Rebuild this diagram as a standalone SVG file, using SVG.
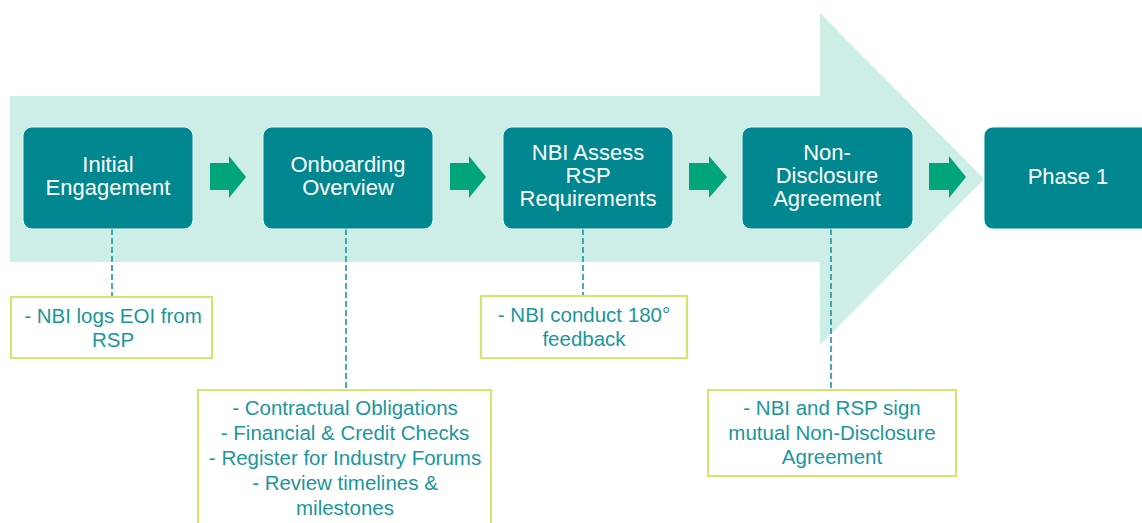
<svg xmlns="http://www.w3.org/2000/svg" width="1142" height="523" viewBox="0 0 1142 523">
<defs>
<style>
.step{fill:#00878F;stroke:#E6F6F2;stroke-width:1}
.st{fill:#FFFFFF;font-family:"Liberation Sans",Arial,sans-serif;font-size:22px;text-anchor:middle}
.note{fill:#FFFFFF;stroke:#D5E56B;stroke-width:2}
.nt{fill:#1A969C;font-family:"Liberation Sans",Arial,sans-serif;font-size:20.5px;text-anchor:middle}
.dash{stroke:#1A96A0;stroke-width:1.6;stroke-dasharray:6 3;fill:none}
.ga{fill:#00A57A}
</style>
</defs>
<rect width="1142" height="523" fill="#FFFFFF"/>
<polygon id="bigArrow" points="10,96 820,96 820,13 984,179 820,345 820,262 10,262" fill="#CDEEE6"/>
<g id="connectors">
<line class="dash" x1="112" y1="229" x2="112" y2="297"/>
<line class="dash" x1="346" y1="229" x2="346" y2="390"/>
<line class="dash" x1="583" y1="229" x2="583" y2="296"/>
<line class="dash" x1="831" y1="229" x2="831" y2="390"/>
<polygon class="ga" points="210,163 229,163 229,156 246,177 229,198 229,190 210,190"/>
<polygon class="ga" points="450,163 469,163 469,156 486,177 469,198 469,190 450,190"/>
<polygon class="ga" points="689,163 709,163 709,156 727,177 709,198 709,190 689,190"/>
<polygon class="ga" points="929,163 949,163 949,156 966,177 949,198 949,190 929,190"/>
</g>
<g id="initialEngagement">
<rect class="step" x="23" y="127" width="170" height="102" rx="9"/>
<text class="st" x="108" y="172">Initial</text>
<text class="st" x="108" y="195">Engagement</text>
</g>
<g id="onboardingOverview">
<rect class="step" x="263" y="127" width="170" height="102" rx="9"/>
<text class="st" x="348" y="172">Onboarding</text>
<text class="st" x="348" y="195">Overview</text>
</g>
<g id="nbiAssess">
<rect class="step" x="503" y="127" width="170" height="102" rx="9"/>
<text class="st" x="588" y="160">NBI Assess</text>
<text class="st" x="588" y="183">RSP</text>
<text class="st" x="588" y="206">Requirements</text>
</g>
<g id="nda">
<rect class="step" x="742" y="127" width="171" height="102" rx="9"/>
<text class="st" x="827" y="160">Non-</text>
<text class="st" x="827" y="183">Disclosure</text>
<text class="st" x="827" y="206">Agreement</text>
</g>
<g id="phase1">
<rect class="step" x="984" y="127" width="180" height="102" rx="9"/>
<text class="st" x="1068" y="184">Phase 1</text>
</g>
<g id="note1">
<rect class="note" x="11" y="297" width="201" height="61"/>
<text class="nt" x="113" y="323">- NBI logs EOI from</text>
<text class="nt" x="113" y="347">RSP</text>
</g>
<g id="note2">
<rect class="note" x="198" y="390" width="293" height="140"/>
<text class="nt" x="345" y="415">- Contractual Obligations</text>
<text class="nt" x="345" y="440">- Financial &amp; Credit Checks</text>
<text class="nt" x="345" y="465">- Register for Industry Forums</text>
<text class="nt" x="345" y="490">- Review timelines &amp;</text>
<text class="nt" x="345" y="515">milestones</text>
</g>
<g id="note3">
<rect class="note" x="481" y="296" width="206" height="62"/>
<text class="nt" x="584" y="322">- NBI conduct 180°</text>
<text class="nt" x="584" y="346">feedback</text>
</g>
<g id="note4">
<rect class="note" x="708" y="390" width="248" height="86"/>
<text class="nt" x="832" y="415">- NBI and RSP sign</text>
<text class="nt" x="832" y="440">mutual Non-Disclosure</text>
<text class="nt" x="832" y="464">Agreement</text>
</g>
</svg>
